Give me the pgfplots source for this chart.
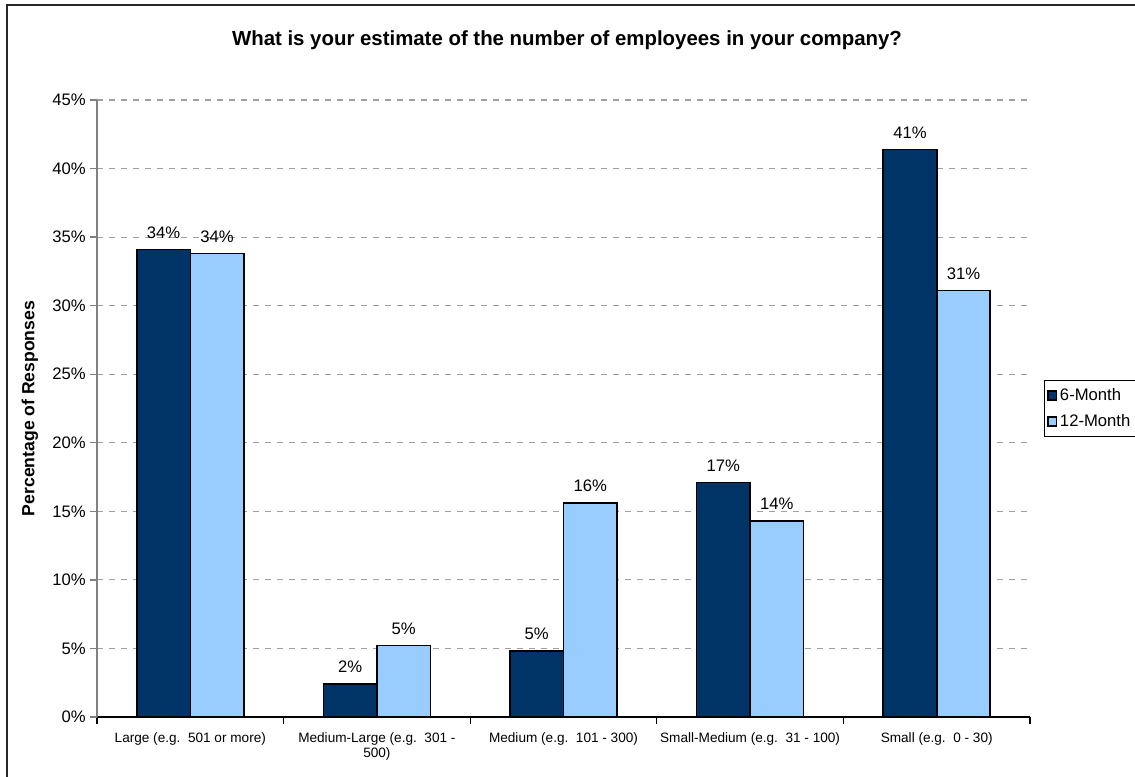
\documentclass[border=0pt]{standalone}
\usepackage{pgfplots}
\pgfplotsset{compat=1.18}
\usepackage{fontspec}
\setmainfont{Liberation Sans}
\definecolor{navy}{RGB}{0,51,102}
\definecolor{lblue}{RGB}{153,204,255}
\definecolor{gridgray}{RGB}{160,160,160}
\begin{document}
\begin{tikzpicture}[x=0.75pt,y=0.75pt]
\useasboundingbox (0,0) rectangle (1135,777);
\draw[line width=1.5pt, black!85] (7,-20) -- (7,772) -- (1150,772);
\node[font=\bfseries\fontsize{15.3}{17}\selectfont] at (567,737) {What is your estimate of the number of employees in your company?};
\begin{axis}[
  at={(72.75pt,45pt)}, anchor=south west,
  scale only axis, width=699.75pt, height=462.75pt,
  xmin=-0.5, xmax=4.5, ymin=0, ymax=45,
  ybar=0pt, bar width=40.1pt,
  axis x line*=bottom, axis y line*=left,
  x axis line style={black, line width=1pt},
  y axis line style={gray, line width=1pt},
  tick align=outside,
  ytick={0,5,...,45},
  yticklabel={\pgfmathprintnumber{\tick}\%},
  y tick label style={font=\fontsize{12.5}{14}\selectfont},
  major tick length=5pt, minor tick length=5pt,
  y tick style={gray, line width=1pt},
  xtick={0,1,2,3,4},
  xticklabels={{Large (e.g.\ \ 501 or more)},{Medium-Large (e.g.\ \ 301 -\\500)},{Medium (e.g.\ \ 101 - 300)},{Small-Medium (e.g.\ \ 31 - 100)},{Small (e.g.\ \ 0 - 30)}},
  x tick label style={font=\fontsize{10.2}{11.5}\selectfont, align=center, yshift=-3pt},
  major x tick style={draw=none},
  minor xtick={-0.5,0.5,1.5,2.5,3.5,4.5},
  minor x tick style={black, line width=1pt},
  ymajorgrids,
  major grid style={gridgray, line width=0.8pt, dash pattern=on 4.5pt off 4.5pt},
  /pgf/number format/assume math mode=true,
  ylabel={\bfseries Percentage of Responses},
  ylabel style={font=\fontsize{13.2}{15}\selectfont, at={(-0.072,0.5)}, anchor=center},
  nodes near coords={\pgfmathprintnumber[fixed,precision=0]{\pgfplotspointmeta}\%},
  nodes near coords style={font=\fontsize{12.5}{14}\selectfont, anchor=base, yshift=8.5pt, black},
  legend style={at={(1.015,0.546)}, anchor=north west, draw=black, font=\fontsize{12.5}{14}\selectfont, row sep=5pt, inner xsep=2pt, inner ysep=4pt},
  legend cell align=left,
  legend image code/.code={\draw[#1, draw=black] (0pt,-3.3pt) rectangle (6.6pt,3.3pt);},
]
\addplot[fill=navy, draw=black, line width=1.2pt] coordinates {(0,34.1) (1,2.4) (2,4.8) (3,17.1) (4,41.4)};
\addplot[fill=lblue, draw=black, line width=1.2pt] coordinates {(0,33.8) (1,5.2) (2,15.6) (3,14.3) (4,31.1)};
\legend{6-Month,12-Month\hspace*{6pt}}
\end{axis}
\end{tikzpicture}
\end{document}
